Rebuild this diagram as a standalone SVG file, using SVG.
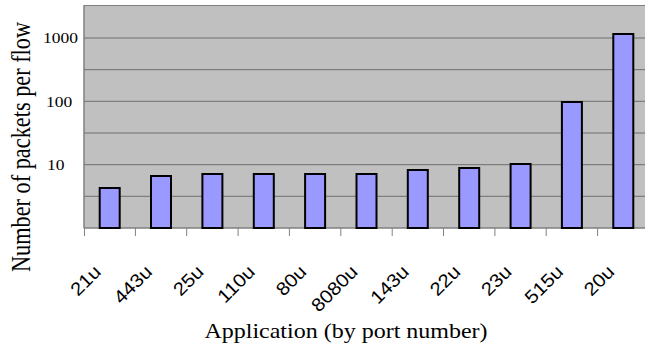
<svg xmlns="http://www.w3.org/2000/svg" width="645" height="352" viewBox="0 0 645 352">
<style>
.grid{stroke:#6e6e6e;stroke-width:1}
.axis{stroke:#808080;stroke-width:1}
.bar{fill:#9999ff;stroke:#000;stroke-width:2}
.ylab{font-family:"Liberation Serif",serif;font-size:14px;fill:#000}
.xlab{font-family:"Liberation Sans",Arial,sans-serif;font-size:18.5px;fill:#000}
.title{font-family:"Liberation Serif",serif;fill:#000}
</style>
<rect width="645" height="352" fill="#fff"/>
<g id="plot">
<rect x="84" y="5.5" width="570" height="222.5" fill="#c0c0c0" stroke="#808080" stroke-width="1"/>
<line class="grid" x1="84" y1="38" x2="645" y2="38"/>
<line class="grid" x1="84" y1="69.7" x2="645" y2="69.7"/>
<line class="grid" x1="84" y1="101.3" x2="645" y2="101.3"/>
<line class="grid" x1="84" y1="133" x2="645" y2="133"/>
<line class="grid" x1="84" y1="164.7" x2="645" y2="164.7"/>
<line class="grid" x1="84" y1="196.3" x2="645" y2="196.3"/>
<line class="axis" x1="84" y1="5.5" x2="84" y2="228"/>
<line class="axis" x1="84" y1="228" x2="645" y2="228"/>
</g>
<g id="ticks">
<line class="axis" x1="84.5" y1="228" x2="84.5" y2="236"/>
<line class="axis" x1="135.4" y1="228" x2="135.4" y2="236"/>
<line class="axis" x1="186.7" y1="228" x2="186.7" y2="236"/>
<line class="axis" x1="238.1" y1="228" x2="238.1" y2="236"/>
<line class="axis" x1="289.4" y1="228" x2="289.4" y2="236"/>
<line class="axis" x1="340.8" y1="228" x2="340.8" y2="236"/>
<line class="axis" x1="392.2" y1="228" x2="392.2" y2="236"/>
<line class="axis" x1="443.5" y1="228" x2="443.5" y2="236"/>
<line class="axis" x1="494.9" y1="228" x2="494.9" y2="236"/>
<line class="axis" x1="546.2" y1="228" x2="546.2" y2="236"/>
<line class="axis" x1="597.6" y1="228" x2="597.6" y2="236"/>
</g>
<g id="bars">
<rect class="bar" x="99.7" y="188" width="20" height="40"/>
<rect class="bar" x="151" y="176" width="20" height="52"/>
<rect class="bar" x="202.4" y="174" width="20" height="54"/>
<rect class="bar" x="253.8" y="174" width="20" height="54"/>
<rect class="bar" x="305.1" y="174" width="20" height="54"/>
<rect class="bar" x="356.5" y="174" width="20" height="54"/>
<rect class="bar" x="407.8" y="170" width="20" height="58"/>
<rect class="bar" x="459.2" y="168" width="20" height="60"/>
<rect class="bar" x="510.6" y="164" width="20" height="64"/>
<rect class="bar" x="561.9" y="102" width="20" height="126"/>
<rect class="bar" x="613.3" y="34" width="20" height="194"/>
</g>
<g id="ylabels">
<text class="ylab" transform="translate(43,43) scale(1.25,1)">1000</text>
<text class="ylab" transform="translate(46,107) scale(1.25,1)">100</text>
<text class="ylab" transform="translate(47,169.5) scale(1.25,1)">10</text>
</g>
<g id="xlabels" text-anchor="end">
<text class="xlab" transform="translate(102,273) rotate(-45) scale(1.1,1)">21u</text>
<text class="xlab" transform="translate(153.3,273) rotate(-45) scale(1.1,1)">443u</text>
<text class="xlab" transform="translate(204.7,273) rotate(-45) scale(1.1,1)">25u</text>
<text class="xlab" transform="translate(256,273) rotate(-45) scale(1.1,1)">110u</text>
<text class="xlab" transform="translate(307.4,273) rotate(-45) scale(1.1,1)">80u</text>
<text class="xlab" transform="translate(358.8,273) rotate(-45) scale(1.1,1)">8080u</text>
<text class="xlab" transform="translate(410.1,273) rotate(-45) scale(1.1,1)">143u</text>
<text class="xlab" transform="translate(461.5,273) rotate(-45) scale(1.1,1)">22u</text>
<text class="xlab" transform="translate(512.8,273) rotate(-45) scale(1.1,1)">23u</text>
<text class="xlab" transform="translate(564.2,273) rotate(-45) scale(1.1,1)">515u</text>
<text class="xlab" transform="translate(615.5,273) rotate(-45) scale(1.1,1)">20u</text>
</g>
<g id="titles">
<text class="title" font-size="20" text-anchor="middle" transform="translate(346,338) scale(1.2,1)">Application (by port number)</text>
<text class="title" font-size="22.3" text-anchor="middle" transform="translate(30,147) scale(1.2,1) rotate(-90)">Number of packets per flow</text>
</g>
</svg>
